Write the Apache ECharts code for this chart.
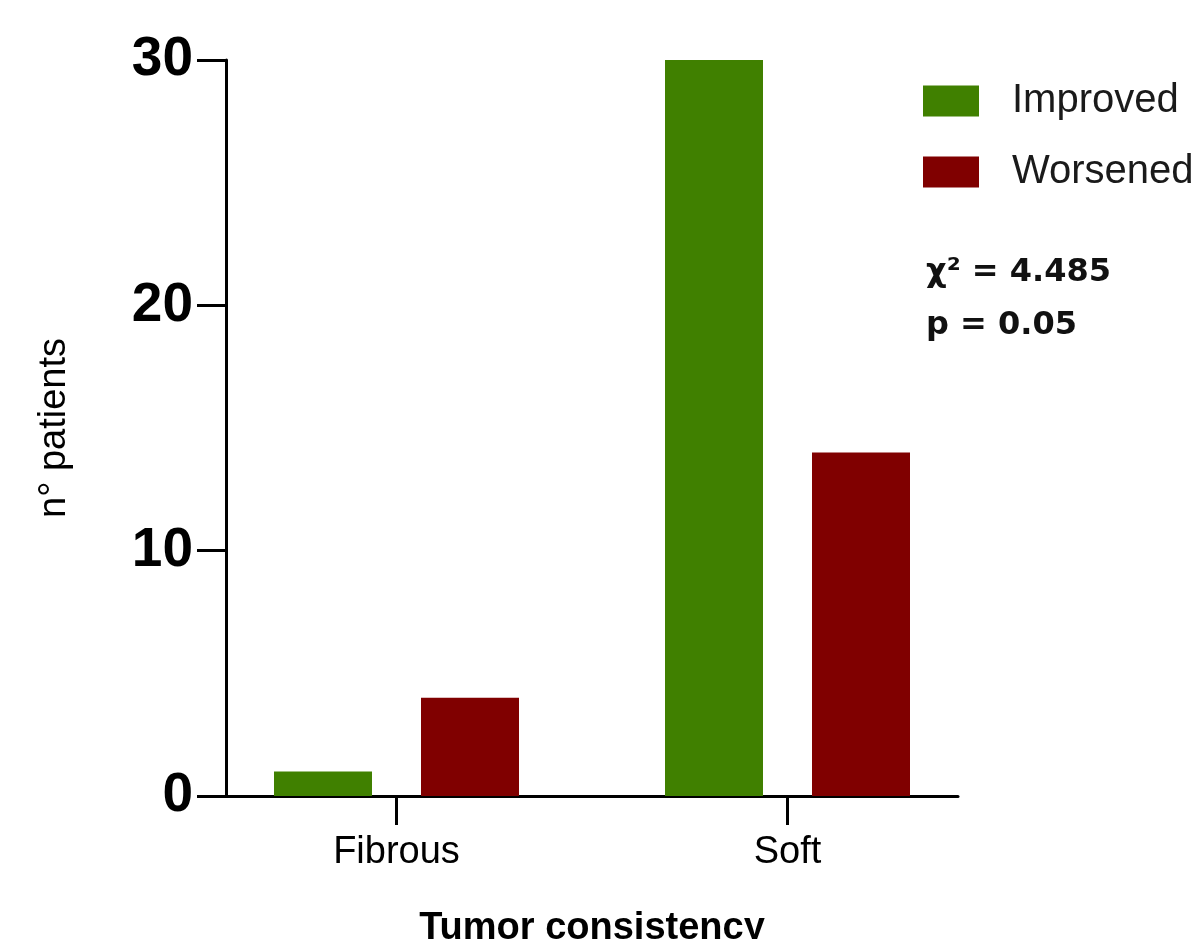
<!DOCTYPE html>
<html>
<head>
<meta charset="utf-8">
<script src="https://cdn.jsdelivr.net/npm/echarts@6/dist/echarts.min.js"></script>
<style>
html,body{margin:0;padding:0;background:#fff;}
#chart{width:1194px;height:939px;}
</style>
</head>
<body>
<div id="chart"></div>
<script>
const categories = ['Fibrous', 'Soft'];
const improved = [1, 30];
const worsened = [4, 14];
const yTicks = [0, 10, 20, 30];
const seriesNames = ['Improved', 'Worsened'];
const statsText = ['χ² = 4.485', 'p = 0.05'];

const chart = echarts.init(document.getElementById('chart'));
const axisFont = 'Liberation Sans, Arial, sans-serif';
chart.setOption({
  backgroundColor: '#ffffff',
  animation: false,
  grid: [
    { left: 201, width: 782, top: 60, height: 736, containLabel: false, outerBoundsMode: 'none' },
    { left: 226, width: 732, top: 60, height: 736, containLabel: false, outerBoundsMode: 'none' }
  ],
  legend: {
    data: seriesNames,
    orient: 'vertical',
    left: 923,
    top: 81,
    padding: 0,
    itemWidth: 56,
    itemHeight: 31,
    itemGap: 31,
    icon: 'rect',
    textStyle: { fontFamily: axisFont, fontSize: 40, color: '#1a1a1a', lineHeight: 40, padding: [0, 0, 0, 28] }
  },
  xAxis: [
    {
      type: 'category',
      gridIndex: 0,
      data: categories,
      axisLine: { show: false },
      axisTick: { show: true, alignWithLabel: true, length: 29, lineStyle: { color: '#000', width: 3 } },
      axisLabel: { fontFamily: axisFont, fontSize: 38, color: '#000', margin: 38 },
      splitLine: { show: false }
    },
    {
      type: 'value',
      gridIndex: 1,
      min: 0,
      max: 1,
      axisLine: { show: true, lineStyle: { color: '#000', width: 3 } },
      axisTick: { show: false },
      axisLabel: { show: false },
      splitLine: { show: false },
      name: 'Tumor consistency',
      nameLocation: 'middle',
      nameGap: 114,
      nameTextStyle: { fontFamily: axisFont, fontSize: 38, fontWeight: 'bold', color: '#000' }
    }
  ],
  yAxis: [
    {
      type: 'value',
      gridIndex: 0,
      min: yTicks[0],
      max: yTicks[yTicks.length - 1],
      show: false
    },
    {
      type: 'value',
      gridIndex: 1,
      min: yTicks[0],
      max: yTicks[yTicks.length - 1],
      interval: 10,
      axisLine: { show: true, lineStyle: { color: '#000', width: 3 } },
      axisTick: { show: true, length: 29, lineStyle: { color: '#000', width: 3 } },
      axisLabel: { fontFamily: axisFont, fontSize: 55, fontWeight: 'bold', color: '#000', margin: 33 },
      splitLine: { show: false },
      name: 'n° patients',
      nameLocation: 'middle',
      nameGap: 152,
      nameTextStyle: { fontFamily: axisFont, fontSize: 38, color: '#000' }
    }
  ],
  series: [
    {
      name: seriesNames[0],
      type: 'bar',
      xAxisIndex: 0,
      yAxisIndex: 0,
      data: improved,
      barWidth: 98,
      barGap: '50%',
      itemStyle: { color: '#408000' }
    },
    {
      name: seriesNames[1],
      type: 'bar',
      xAxisIndex: 0,
      yAxisIndex: 0,
      data: worsened,
      barWidth: 98,
      barGap: '50%',
      itemStyle: { color: '#800000' }
    }
  ],
  graphic: [
    {
      type: 'text',
      left: 926,
      top: 246,
      style: {
        text: statsText.join('\n'),
        font: 'bold 32px "DejaVu Sans", sans-serif',
        lineHeight: 53,
        fill: '#111'
      }
    }
  ]
});
</script>
</body>
</html>
